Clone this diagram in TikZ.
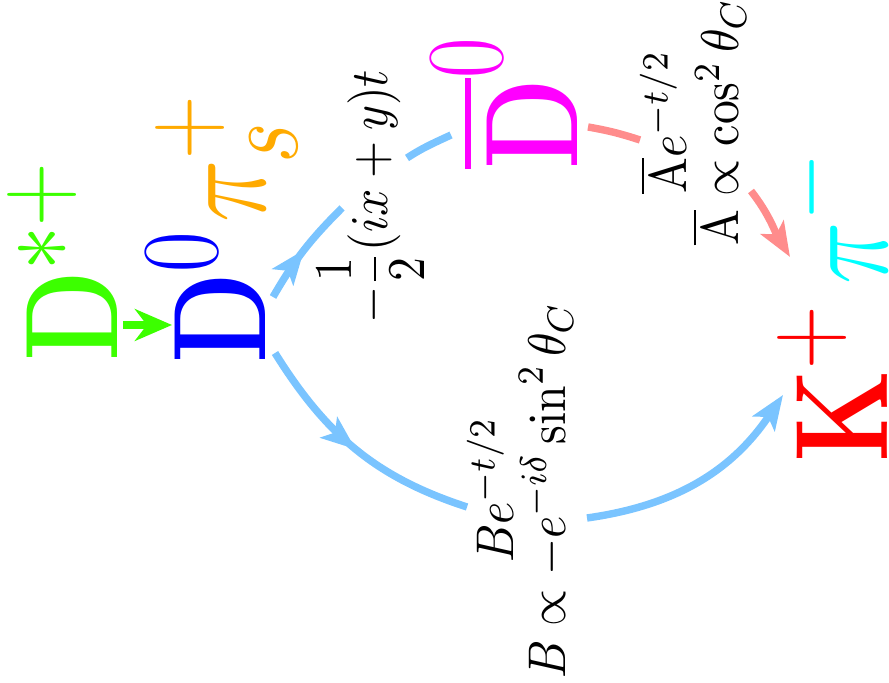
\documentclass[tikz,border=0pt]{standalone}
\usepackage{amsmath}
\DeclareMathSizes{24.88}{24.88}{20.74}{17.28}
\usetikzlibrary{arrows.meta,decorations.markings}
\definecolor{cBlue}{RGB}{122,196,255}
\definecolor{cPink}{RGB}{255,140,140}
\definecolor{cGreen}{RGB}{60,255,0}
\definecolor{cOrange}{RGB}{255,170,0}
\definecolor{cMagenta}{RGB}{255,0,255}
\definecolor{cCyan}{RGB}{0,255,255}
\definecolor{cRed}{RGB}{255,0,0}
\definecolor{cDBlue}{RGB}{0,0,255}
\begin{document}
\begin{tikzpicture}[x=0.1887pt, y=0.1887pt,
  part/.style={rotate=90, xscale=0.8, inner sep=0pt, anchor=base west, font=\Huge},
  lab/.style={rotate=90, xscale=0.9, inner sep=0pt, anchor=center, font=\fontsize{10}{9.7}\selectfont, align=center},
  conn/.style={line width=1.4pt},
  tip/.style={-{Stealth[length=6.5pt,width=5pt,inset=1.5pt]}},
  midarrow/.style={postaction={decorate}, decoration={markings, mark=at position 0.5 with {\arrow{Stealth[length=6.5pt,width=5pt,inset=1.5pt]}}}}]
\useasboundingbox (0,0) rectangle (889,-683);
\node[part, text=cGreen] (dstar) at (117,-362) {$\mathbf{D}^{*+}$};
\node[part, text=cDBlue] (d0) at (265,-364) {$\mathbf{D}^0$};
\node[part, text=cOrange] (pis) at (265,-223) {$\pi^+_s$};
\node[part, text=cMagenta] (dbar) at (577,-170) {$\overline{\mathbf{D}}^0$};
\node[part, text=cRed] (kp) at (887,-463) {$\mathbf{K}^+$};
\node[part, text=cCyan] (pim) at (887,-285) {$\pi^-$};
\node[lab] (lt) at (371,-197) {$-\dfrac{1}{2}(ix+y)t$};
\node[lab] (la) at (693,-122) {$\overline{\mathrm{A}}e^{-t/2}$\\$\overline{\mathrm{A}}\propto\cos^2\theta_C$};
\node[lab] (lb) at (520,-490) {$Be^{-t/2}$\\$B\propto -e^{-i\delta}\sin^2\theta_C$};
\draw[conn, cGreen, -{Stealth[length=7pt,width=6pt]}] ([shift={(6,37)}]dstar.base west) -- ([shift={(-93,39)}]d0.base west);
\draw[conn, cBlue, midarrow] ([shift={(8,67)}]d0.base west) to[out=60,in=225] ([shift={(-29,-11)}]lt.center);
\draw[conn, cBlue] ([shift={(36,39)}]lt.center) to[out=33,in=205] ([shift={(-126,35)}]dbar.base west);
\draw[conn, cBlue, midarrow] ([shift={(10,11)}]d0.base west) to[out=-58,in=162] ([shift={(-53,-17)}]lb.center);
\draw[conn, cBlue, tip] ([shift={(67,-28)}]lb.center) to[out=8,in=236] ([shift={(-104,68)}]kp.base west);
\draw[conn, cPink] ([shift={(11,43)}]dbar.base west) to[out=-10,in=162] ([shift={(-53,-18)}]la.center);
\draw[conn, cPink, tip] ([shift={(58,-69)}]la.center) to[out=-52,in=121] ([shift={(-97,28)}]pim.base west);
\end{tikzpicture}
\end{document}
